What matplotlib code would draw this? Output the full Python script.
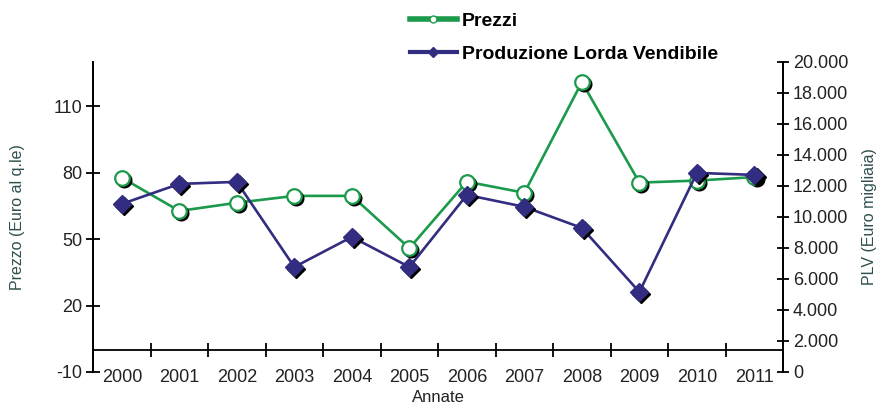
import matplotlib
matplotlib.use("Agg")
import matplotlib.pyplot as plt
import matplotlib.transforms as mtransforms
from matplotlib.lines import Line2D
from matplotlib.ticker import FuncFormatter

# dati
anni = ["2000", "2001", "2002", "2003", "2004", "2005",
        "2006", "2007", "2008", "2009", "2010", "2011"]
prezzi = [77.7, 62.7, 66.4, 69.5, 69.5, 45.9, 75.9, 70.9, 120.9, 75.5, 76.4, 78.0]
plv = [10840, 12130, 12260, 6770, 8710, 6770, 11420, 10650, 9290, 5160, 12840, 12710]

verde = "#1b9a4b"
blu = "#322d80"
testo = "#222222"

plt.rcParams["font.family"] = ["Liberation Sans", "DejaVu Sans"]
plt.rcParams["axes.unicode_minus"] = False

fig = plt.figure(figsize=(8.78, 4.07), dpi=100)
ax = fig.add_axes([0.106, 0.086, 0.786, 0.762])
ax2 = ax.twinx()

x = list(range(len(anni)))

# ombre dei marker
ombra1 = mtransforms.offset_copy(ax.transData, fig=fig, x=1.5, y=-1.5, units="points")
ombra2 = mtransforms.offset_copy(ax2.transData, fig=fig, x=1.5, y=-1.5, units="points")

ax.plot(x, prezzi, color=verde, lw=1.9, zorder=3)
ax.plot(x, prezzi, linestyle="none", marker="o", ms=10.5, mfc="black", mec="black",
        transform=ombra1, zorder=3)
ax.plot(x, prezzi, linestyle="none", marker="o", ms=10.5, mfc="white", mec=verde,
        mew=1.6, zorder=4)

ax2.plot(x, plv, color=blu, lw=1.9, zorder=3)
ax2.plot(x, plv, linestyle="none", marker="D", ms=9.5, mfc="black", mec="black",
         transform=ombra2, zorder=3)
ax2.plot(x, plv, linestyle="none", marker="D", ms=9.5, mfc=blu, mec=blu, zorder=4)

# asse sinistro
ax.set_xlim(-0.5, len(anni) - 0.5)
ax.set_ylim(-10, 130)
ax.set_yticks([-10, 20, 50, 80, 110])
ax.tick_params(axis="y", direction="inout", length=10, width=1.3, pad=3,
               labelsize=13, labelcolor=testo)
ax.set_ylabel("Prezzo (Euro al q.le)", fontsize=11.5, color="#2f4f4f")
ax.yaxis.set_label_coords(-0.098, 0.5)

# asse destro
ax2.set_ylim(0, 20000)
ax2.set_yticks(range(0, 20001, 2000))
ax2.yaxis.set_major_formatter(FuncFormatter(lambda v, p: f"{int(v):,}".replace(",", ".")))
ax2.tick_params(axis="y", direction="inout", length=8, width=1.3, pad=3,
                labelsize=13, labelcolor=testo)
ax2.set_ylabel("PLV (Euro migliaia)", fontsize=11.5, color="#2f4f4f", rotation=90)
ax2.yaxis.set_label_coords(1.114, 0.5)

# asse categorie a quota 0
for a in (ax, ax2):
    a.spines["top"].set_visible(False)
    a.spines["left"].set_linewidth(1.3)
    a.spines["right"].set_linewidth(1.3)
ax2.spines["bottom"].set_visible(False)
ax.spines["bottom"].set_position(("data", 0))
ax.spines["bottom"].set_linewidth(1.3)
ax.set_xticks(x)
ax.set_xticklabels(anni)
ax.set_xticks([i + 0.5 for i in x[:-1]], minor=True)
ax.tick_params(axis="x", which="major", length=0, pad=14, labelsize=13, labelcolor=testo)
ax.tick_params(axis="x", which="minor", direction="inout", length=10, width=1.3)
ax.set_xlabel("Annate", fontsize=12, color=testo)
ax.xaxis.set_label_coords(0.5, -0.058)

# legenda
maniglie = [
    Line2D([], [], color=verde, lw=4, marker="o", ms=5, mfc="white", mec=verde),
    Line2D([], [], color=blu, lw=3, marker="D", ms=5, mfc=blu, mec=blu),
]
fig.legend(maniglie, ["Prezzi", "Produzione Lorda Vendibile"], loc="upper left",
           bbox_to_anchor=(0.447, 1.012), frameon=False, handlelength=2.4,
           handletextpad=0.28, labelspacing=0.78,
           prop={"weight": "bold", "size": 14})

fig.savefig("out.png", dpi=100)
